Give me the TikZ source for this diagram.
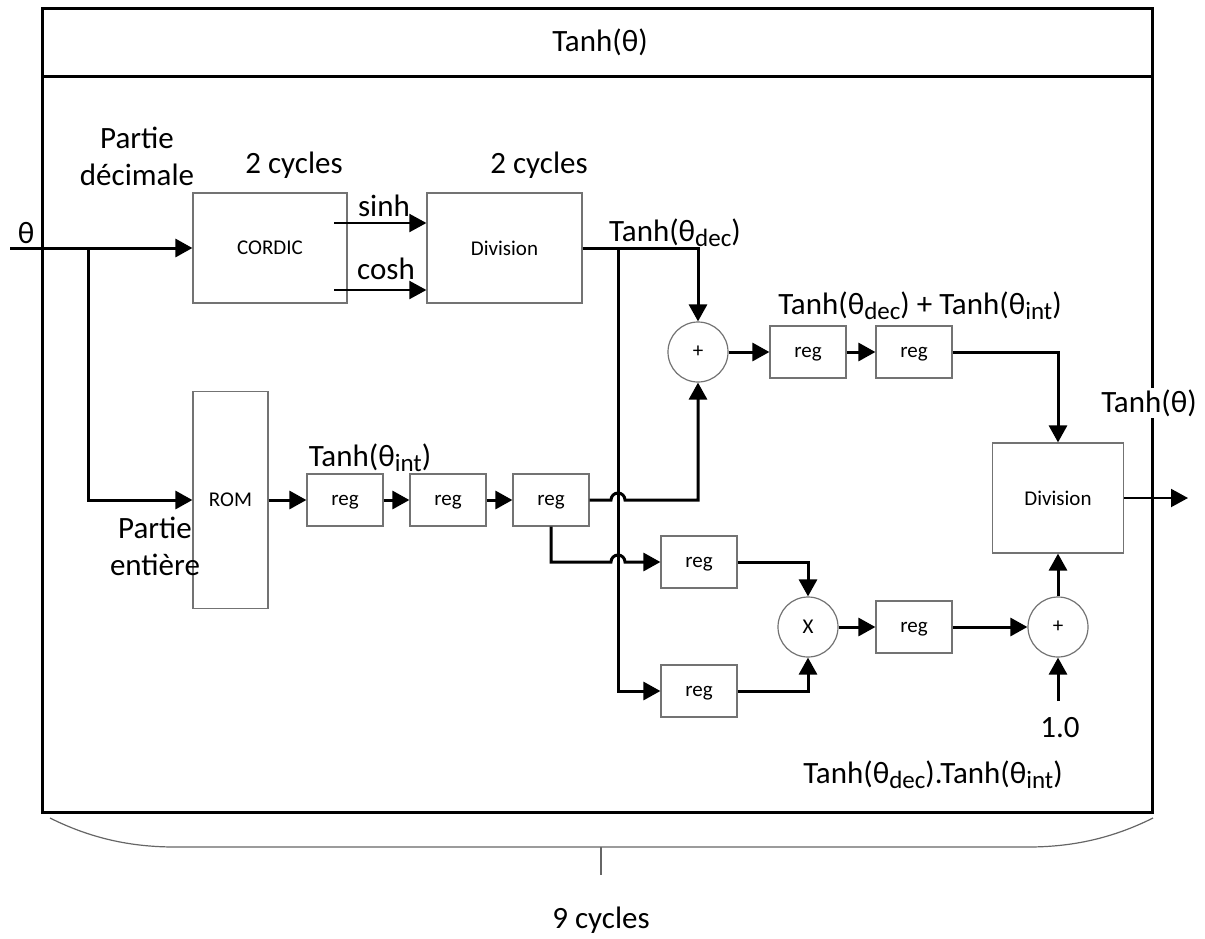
\documentclass[tikz,border=0pt]{standalone}
\usepackage{fontspec}
\setmainfont{Carlito}
\usetikzlibrary{arrows.meta,calc}
\newcommand{\subtxt}[1]{\raisebox{-0.35ex}{\fontsize{12.5}{13}\selectfont #1}}

\begin{document}
\begin{tikzpicture}[x=0.5pt,y=-0.5pt,line join=miter,
  >={Triangle[length=8.5pt,width=9pt]},
  every node/.style={font=\fontsize{15.5}{18.5}\selectfont},
  lbl/.style={inner sep=1pt},
  blk/.style={draw=black!55,line width=0.6pt,inner sep=0pt,text depth=0pt,
    font=\fontsize{10.5}{12}\selectfont},
  regbox/.style={blk,minimum width=38pt,minimum height=26pt},
  opnode/.style={blk,circle,minimum size=30pt},
  wire/.style={line width=1.5pt},
  thinwire/.style={line width=1pt}]
  \useasboundingbox (0,0) rectangle (1205,938);
  % frame and title
  \draw[line width=1.5pt] (42,8) rectangle (1152,812);
  \draw[line width=1.5pt] (42,76) -- (1152,76);
  \node (title) at (600,42) {Tanh(θ)};

  % blocks
  \node[blk,minimum width=77pt,minimum height=55pt] (cordic) at (270,248) {CORDIC};
  \node[blk,minimum width=77.5pt,minimum height=55pt] (divdec) at (504.5,248) {Division};
  \node[blk,minimum width=37.5pt,minimum height=108.5pt] (rom) at (230.5,500) {ROM};
  \node[regbox] (rega) at (345,500) {reg};
  \node[regbox] (regb) at (448,500) {reg};
  \node[regbox] (regc) at (551,500) {reg};
  \node[regbox] (regd) at (699,562) {reg};
  \node[regbox] (rege) at (699,691) {reg};
  \node[opnode] (mult) at (808,627) {X};
  \node[regbox] (regf) at (914,627) {reg};
  \node[opnode] (addb) at (1058,627) {+};
  \node[opnode] (adda) at (698,352) {+};
  \node[regbox] (regs) at (808,352) {reg};
  \node[regbox] (regt) at (914,352) {reg};
  \node[blk,minimum width=65.5pt,minimum height=55pt] (divout) at (1058,498) {Division};

  % free ends
  \coordinate (thin) at (10,248);
  \coordinate (split) at (88,248);
  \coordinate (sinhout) at (334,223);
  \coordinate (coshout) at (334,290);
  \coordinate (decsplit) at (618,248);
  \coordinate (unit) at (1058,701);
  \coordinate (tanhout) at (1188,498);

  % connections
  \draw[wire,->] (thin) -- (cordic.west);
  \draw[wire,->] (split) |- (rom.west);
  \draw[thinwire,->] (sinhout) -- (sinhout -| divdec.west);
  \draw[thinwire,->] (coshout) -- (coshout -| divdec.west);
  \draw[wire,->] (divdec.east) -| (adda.north);
  \draw[wire,->] (decsplit) |- (rege.west);
  \draw[wire,->] (adda) -- (regs);
  \draw[wire,->] (regs) -- (regt);
  \draw[wire,->] (regt.east) -| (divout.north);
  \draw[wire,->] (rom) -- (rega);
  \draw[wire,->] (rega) -- (regb);
  \draw[wire,->] (regb) -- (regc);
  \draw[wire,->] (regc.east) -- ($(decsplit |- regc.east)+(-7,0)$)
    arc[start angle=180,end angle=360,radius=7] -| (adda.south);
  \draw[wire,->] (regc.south) |- ($(decsplit |- regd.west)+(-7,0)$)
    arc[start angle=180,end angle=360,radius=7] -- (regd.west);
  \draw[wire,->] (regd.east) -| (mult.north);
  \draw[wire,->] (rege.east) -| (mult.south);
  \draw[wire,->] (mult) -- (regf);
  \draw[wire,->] (regf) -- (addb);
  \draw[wire,->] (addb) -- (divout);
  \draw[wire,->] (unit) -- (addb.south);
  \draw[thinwire,->] (divout.east) -- (tanhout);

  % labels
  \node[lbl] (lbltheta) at (26,233) {θ};
  \node[lbl,align=center] (lbldec) at (137,156) {Partie\\décimale};
  \node[lbl,align=center] (lblint) at (155,546) {Partie\\entière};
  \node[lbl] (cyca) at (294,165) {2 cycles};
  \node[lbl] (cycb) at (539,165) {2 cycles};
  \node[lbl] (lblsinh) at (384,206) {sinh};
  \node[lbl] (lblcosh) at (386,269) {cosh};
  \node[lbl] (lbltdec) at (675,233) {Tanh(θ\subtxt{dec})};
  \node[lbl] (lbltint) at (370,458) {Tanh(θ\subtxt{int})};
  \node[lbl] (lblsum) at (920,306) {Tanh(θ\subtxt{dec}) + Tanh(θ\subtxt{int})};
  \node[lbl,fill=white] (lblout) at (1149,403) {Tanh(θ)};
  \node[lbl] (lblone) at (1060,728) {1.0};
  \node[lbl] (lblprod) at (933,775) {Tanh(θ\subtxt{dec}).Tanh(θ\subtxt{int})};

  % brace
  \draw[black!60,line width=0.6pt] (50,818) .. controls (90,838) and (130,847) .. (175,847)
    -- (1028,847) .. controls (1073,847) and (1113,838) .. (1153,818);
  \draw[black!60,line width=0.6pt] (601,847) -- (601,875);
  \node[lbl] (lblcyc) at (601,920) {9 cycles};
\end{tikzpicture}
\end{document}
